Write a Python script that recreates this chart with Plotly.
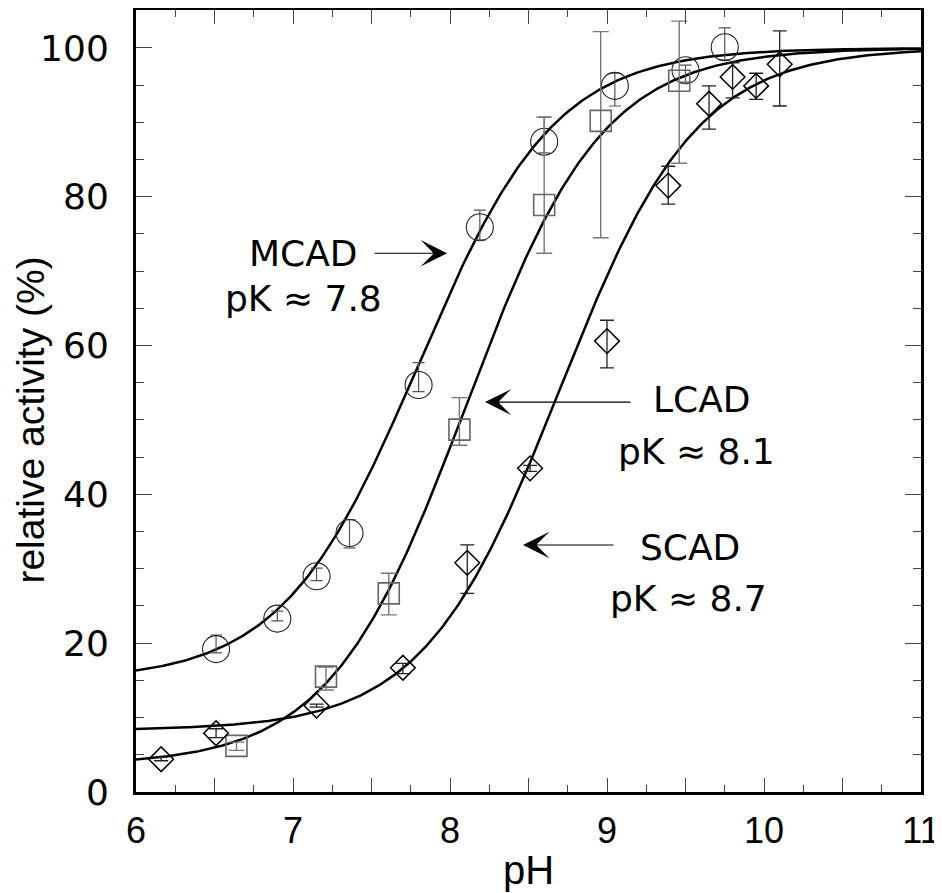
import numpy as np
import plotly.graph_objects as go

# ---- data ----
mcad_ph = [6.51, 6.90, 7.15, 7.36, 7.80, 8.19, 8.60, 9.05, 9.50, 9.75]
mcad_act = [19.2, 23.3, 29.0, 34.8, 54.7, 75.9, 87.4, 94.9, 97.0, 100.1]
mcad_up = [1.9, 1.0, 1.1, 1.8, 3.0, 2.3, 3.3, 1.7, 0.7, 2.6]
mcad_dn = [0.5, 0.3, 0.6, 2.0, 0.9, 1.7, 1.5, 2.7, 1.6, 1.7]

lcad_ph = [6.64, 7.21, 7.61, 8.06, 8.60, 8.96, 9.46]
lcad_act = [6.2, 15.5, 26.7, 48.7, 78.9, 90.2, 95.6]
lcad_up = [0.5, 1.3, 2.7, 4.3, 11.8, 12.0, 8.0]
lcad_dn = [0.6, 1.8, 2.9, 2.1, 6.5, 15.7, 11.1]

scad_ph = [6.16, 6.51, 7.15, 7.70, 8.11, 8.51, 9.00, 9.39, 9.65, 9.80, 9.95, 10.10]
scad_act = [4.4, 7.9, 11.6, 16.7, 30.8, 43.5, 60.6, 81.5, 92.5, 96.1, 94.9, 97.8]
scad_up = [0.3, 0.6, 0.2, 0.6, 2.4, 0.4, 2.8, 2.6, 2.4, 1.9, 1.7, 4.5]
scad_dn = [0.2, 0.6, 0.2, 0.8, 4.1, 0.4, 3.6, 2.5, 3.4, 2.8, 1.8, 5.6]

# fitted titration curves (pK, low plateau, high plateau)
fits = {"MCAD": (7.8, 15.0, 100.0), "LCAD": (8.1, 3.6, 100.0), "SCAD": (8.7, 8.3, 100.0)}

x_ticks = [6, 6.5, 7, 7.5, 8, 8.5, 9, 9.5, 10, 10.5, 11]
x_ticktext = ["6", "", "7", "", "8", "", "9", "", "10", "", "11"]
y_ticks = [0, 20, 40, 60, 80, 100]

fig = go.Figure()

ph_grid = np.linspace(6, 11, 400)
for name, (pk, lo, hi) in fits.items():
    fig.add_trace(go.Scatter(
        x=ph_grid, y=lo + (hi - lo) / (1 + 10 ** (pk - ph_grid)),
        mode="lines", line=dict(color="black", width=2.5), showlegend=False,
        hoverinfo="skip"))

fig.add_trace(go.Scatter(
    x=mcad_ph, y=mcad_act, mode="markers",
    marker=dict(symbol="circle-open", size=27, color="#222", line=dict(width=1.1)),
    error_y=dict(type="data", symmetric=False, array=mcad_up, arrayminus=mcad_dn,
                 color="#555", thickness=1.2, width=6),
    showlegend=False))
fig.add_trace(go.Scatter(
    x=lcad_ph, y=lcad_act, mode="markers",
    marker=dict(symbol="square-open", size=21, color="#666", line=dict(width=1.6)),
    error_y=dict(type="data", symmetric=False, array=lcad_up, arrayminus=lcad_dn,
                 color="#777", thickness=1.4, width=8),
    showlegend=False))
fig.add_trace(go.Scatter(
    x=scad_ph, y=scad_act, mode="markers",
    marker=dict(symbol="diamond-open", size=19, color="black", line=dict(width=1.5)),
    error_y=dict(type="data", symmetric=False, array=scad_up, arrayminus=scad_dn,
                 color="#222", thickness=1.3, width=7),
    showlegend=False))

txt_font = dict(family="DejaVu Sans", size=36, color="black")
labels = [
    ("MCAD", 7.064, 72.4), ("pK ≈ 7.8", 7.064, 66.3),
    ("LCAD", 9.605, 52.8), ("pK ≈ 8.1", 9.567, 45.8),
    ("SCAD", 9.529, 32.8), ("pK ≈ 8.7", 9.516, 26.0),
]
for t, x, y in labels:
    fig.add_annotation(x=x, y=y, text=t, showarrow=False, font=txt_font,
                       xanchor="center", yanchor="middle")

arrows = [((7.981, 72.4), (7.51, 72.4)),
          ((8.223, 52.4), (9.159, 52.4)),
          ((8.465, 33.2), (9.051, 33.2))]
for (tx, ty), (sx, sy) in arrows:
    fig.add_annotation(x=tx, y=ty, ax=sx, ay=sy, axref="x", ayref="y", text="",
                       showarrow=True, arrowhead=3, arrowsize=4.0, arrowwidth=1.1,
                       arrowcolor="black", standoff=0)

# axis titles
fig.add_annotation(xref="paper", yref="paper", x=0.5, y=-0.0997, text="pH",
                   showarrow=False, xanchor="center", yanchor="middle",
                   font=dict(family="Liberation Sans", size=40, color="black"))
fig.add_annotation(xref="paper", yref="paper", x=-0.134, y=0.476,
                   text="relative activity (%)", textangle=-90,
                   showarrow=False, xanchor="center", yanchor="middle",
                   font=dict(family="Liberation Sans", size=39, color="black"))

axis_common = dict(showline=True, linecolor="black", linewidth=3, mirror="allticks",
                   ticks="inside", tickcolor="#444", tickwidth=1, showgrid=False,
                   zeroline=False, automargin=False)
fig.update_xaxes(range=[6, 11], tickvals=x_ticks, ticktext=x_ticktext, ticklen=14,
                 minor=dict(dtick=0.25, tick0=6, ticks="inside", ticklen=7, tickcolor="#444",
                            showgrid=False),
                 tickfont=dict(family="Liberation Sans", size=36, color="black"),
                 ticklabelstandoff=5,
                 **axis_common)
fig.update_yaxes(range=[0, 105.1], tickvals=y_ticks, ticklen=16,
                 minor=dict(dtick=5, tick0=0, ticks="inside", ticklen=8, tickcolor="#444",
                            showgrid=False),
                 tickfont=dict(family="DejaVu Sans", size=36, color="black"),
                 ticklabelstandoff=17,
                 **axis_common)

# page body has an 8px default margin, so the figure is 8px smaller in each direction
fig.update_layout(width=934, height=885, plot_bgcolor="white", paper_bgcolor="white",
                  margin=dict(l=128, r=21, t=2, b=101), showlegend=False)

fig.write_html("out.html")
